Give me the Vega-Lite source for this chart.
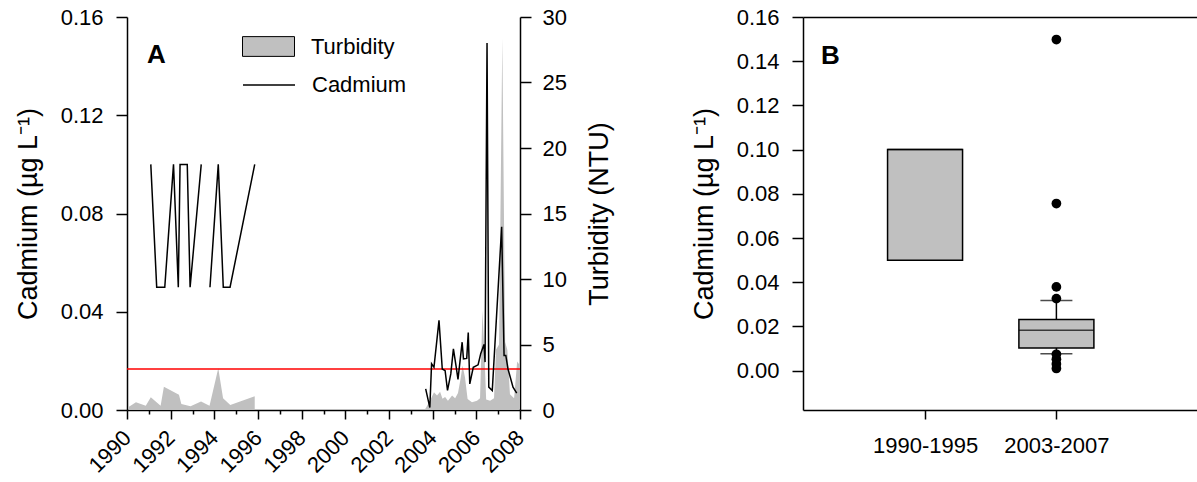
{
  "$schema": "https://vega.github.io/schema/vega-lite/v6.json",
  "padding": {"left": 14, "top": 6, "right": 0, "bottom": 0},
  "background": "white",
  "config": {
    "font": "Liberation Sans",
    "view": {"stroke": null},
    "axis": {
      "labelFont": "Liberation Sans", "titleFont": "Liberation Sans",
      "labelFontSize": 22, "titleFontSize": 27, "titleFontWeight": "normal",
      "labelColor": "black", "titleColor": "black",
      "domainColor": "black", "tickColor": "black",
      "domainWidth": 1.5, "tickWidth": 1.5, "grid": false
    },
    "legend": {"labelFont": "Liberation Sans", "labelFontSize": 22, "labelColor": "black", "padding": 0},
    "title": {"font": "Liberation Sans", "color": "black"}
  },
  "datasets": {
    "turb": [
      {"year": 1990.09, "turbidity": 0.25, "run": 1},
      {"year": 1990.41, "turbidity": 0.6, "run": 1},
      {"year": 1990.86, "turbidity": 0.33, "run": 1},
      {"year": 1991.09, "turbidity": 0.97, "run": 1},
      {"year": 1991.54, "turbidity": 0.33, "run": 1},
      {"year": 1991.69, "turbidity": 1.78, "run": 1},
      {"year": 1992.38, "turbidity": 1.17, "run": 1},
      {"year": 1992.49, "turbidity": 0.46, "run": 1},
      {"year": 1992.91, "turbidity": 0.28, "run": 1},
      {"year": 1993.39, "turbidity": 0.64, "run": 1},
      {"year": 1993.78, "turbidity": 0.33, "run": 1},
      {"year": 1994.18, "turbidity": 3.18, "run": 1},
      {"year": 1994.40, "turbidity": 0.9, "run": 1},
      {"year": 1994.73, "turbidity": 0.38, "run": 1},
      {"year": 1995.85, "turbidity": 1.05, "run": 1},
      {"year": 2003.63, "turbidity": 0.0, "run": 2},
      {"year": 2003.74, "turbidity": 0.3, "run": 2},
      {"year": 2003.93, "turbidity": 0.9, "run": 2},
      {"year": 2004.06, "turbidity": 1.35, "run": 2},
      {"year": 2004.20, "turbidity": 1.1, "run": 2},
      {"year": 2004.34, "turbidity": 1.4, "run": 2},
      {"year": 2004.45, "turbidity": 0.85, "run": 2},
      {"year": 2004.57, "turbidity": 1.0, "run": 2},
      {"year": 2004.70, "turbidity": 0.7, "run": 2},
      {"year": 2004.89, "turbidity": 1.1, "run": 2},
      {"year": 2005.03, "turbidity": 0.9, "run": 2},
      {"year": 2005.16, "turbidity": 1.3, "run": 2},
      {"year": 2005.28, "turbidity": 2.4, "run": 2},
      {"year": 2005.37, "turbidity": 3.4, "run": 2},
      {"year": 2005.48, "turbidity": 2.5, "run": 2},
      {"year": 2005.60, "turbidity": 0.84, "run": 2},
      {"year": 2005.80, "turbidity": 0.6, "run": 2},
      {"year": 2006.03, "turbidity": 0.7, "run": 2},
      {"year": 2006.17, "turbidity": 0.9, "run": 2},
      {"year": 2006.28, "turbidity": 7.6, "run": 2},
      {"year": 2006.38, "turbidity": 4.0, "run": 2},
      {"year": 2006.45, "turbidity": 0.8, "run": 2},
      {"year": 2006.63, "turbidity": 0.7, "run": 2},
      {"year": 2006.81, "turbidity": 0.9, "run": 2},
      {"year": 2006.90, "turbidity": 4.6, "run": 2},
      {"year": 2007.04, "turbidity": 5.0, "run": 2},
      {"year": 2007.19, "turbidity": 28.4, "run": 2},
      {"year": 2007.32, "turbidity": 5.2, "run": 2},
      {"year": 2007.42, "turbidity": 4.6, "run": 2},
      {"year": 2007.54, "turbidity": 1.2, "run": 2},
      {"year": 2007.73, "turbidity": 0.9, "run": 2},
      {"year": 2007.87, "turbidity": 3.7, "run": 2},
      {"year": 2007.96, "turbidity": 3.5, "run": 2}
    ],
    "cad": [
      {"year": 1991.09, "cadmium": 0.10, "run": 1},
      {"year": 1991.36, "cadmium": 0.05, "run": 1},
      {"year": 1991.73, "cadmium": 0.05, "run": 1},
      {"year": 1992.13, "cadmium": 0.10, "run": 1},
      {"year": 1992.35, "cadmium": 0.05, "run": 1},
      {"year": 1992.43, "cadmium": 0.10, "run": 1},
      {"year": 1992.76, "cadmium": 0.10, "run": 1},
      {"year": 1992.89, "cadmium": 0.05, "run": 1},
      {"year": 1993.40, "cadmium": 0.10, "run": 1},
      {"year": 1993.80, "cadmium": 0.05, "run": 2},
      {"year": 1994.18, "cadmium": 0.10, "run": 2},
      {"year": 1994.41, "cadmium": 0.05, "run": 2},
      {"year": 1994.72, "cadmium": 0.05, "run": 2},
      {"year": 1995.85, "cadmium": 0.10, "run": 2},
      {"year": 2003.68, "cadmium": 0.0086, "run": 3},
      {"year": 2003.87, "cadmium": 0.001, "run": 3},
      {"year": 2003.95, "cadmium": 0.0188, "run": 3},
      {"year": 2004.06, "cadmium": 0.0174, "run": 3},
      {"year": 2004.29, "cadmium": 0.0365, "run": 3},
      {"year": 2004.44, "cadmium": 0.0167, "run": 3},
      {"year": 2004.57, "cadmium": 0.0160, "run": 3},
      {"year": 2004.68, "cadmium": 0.0080, "run": 3},
      {"year": 2004.83, "cadmium": 0.0147, "run": 3},
      {"year": 2004.95, "cadmium": 0.0249, "run": 3},
      {"year": 2005.07, "cadmium": 0.0180, "run": 3},
      {"year": 2005.16, "cadmium": 0.0125, "run": 3},
      {"year": 2005.35, "cadmium": 0.0276, "run": 3},
      {"year": 2005.41, "cadmium": 0.0208, "run": 3},
      {"year": 2005.56, "cadmium": 0.0210, "run": 3},
      {"year": 2005.63, "cadmium": 0.0315, "run": 3},
      {"year": 2005.70, "cadmium": 0.0106, "run": 3},
      {"year": 2005.86, "cadmium": 0.0174, "run": 3},
      {"year": 2006.08, "cadmium": 0.0184, "run": 3},
      {"year": 2006.20, "cadmium": 0.0229, "run": 3},
      {"year": 2006.35, "cadmium": 0.0267, "run": 3},
      {"year": 2006.40, "cadmium": 0.0195, "run": 3},
      {"year": 2006.49, "cadmium": 0.1494, "run": 3},
      {"year": 2006.57, "cadmium": 0.0093, "run": 3},
      {"year": 2006.73, "cadmium": 0.0079, "run": 3},
      {"year": 2007.16, "cadmium": 0.0746, "run": 3},
      {"year": 2007.27, "cadmium": 0.0222, "run": 3},
      {"year": 2007.35, "cadmium": 0.0222, "run": 3},
      {"year": 2007.45, "cadmium": 0.0167, "run": 3},
      {"year": 2007.68, "cadmium": 0.0093, "run": 3},
      {"year": 2007.85, "cadmium": 0.0069, "run": 3}
    ],
    "guide": [{"cadmium": 0.0167}],
    "boxes": [
      {"period": "1990-1995", "lo": 0.05, "q1": 0.05, "median": 0.10, "q3": 0.10, "hi": 0.10},
      {"period": "2003-2007", "lo": 0.0076, "q1": 0.0103, "median": 0.0183, "q3": 0.0231, "hi": 0.0317}
    ],
    "outliers": [
      {"period": "2003-2007", "cadmium": 0.1498},
      {"period": "2003-2007", "cadmium": 0.0756},
      {"period": "2003-2007", "cadmium": 0.0379},
      {"period": "2003-2007", "cadmium": 0.0326},
      {"period": "2003-2007", "cadmium": 0.0074},
      {"period": "2003-2007", "cadmium": 0.0052},
      {"period": "2003-2007", "cadmium": 0.0030},
      {"period": "2003-2007", "cadmium": 0.0010}
    ]
  },
  "spacing": 77,
  "hconcat": [
    {
      "width": 393,
      "height": 393,
      "title": {"text": "A", "anchor": "start", "frame": "group", "fontSize": 26, "fontWeight": "bold", "dx": 20, "dy": 62, "offset": 0},
      "resolve": {"scale": {"y": "independent"}, "axis": {"x": "independent"}},
      "layer": [
        {
          "data": {"name": "turb"},
          "mark": {"type": "area", "strokeWidth": 0},
          "encoding": {
            "x": {"field": "year", "type": "quantitative",
                  "scale": {"domain": [1990, 2008], "nice": false, "zero": false},
                  "axis": {"orient": "bottom", "title": null, "values": [1990, 1992, 1994, 1996, 1998, 2000, 2002, 2004, 2006, 2008],
                           "format": "d", "labelAngle": -45, "labelAlign": "right", "labelBaseline": "middle",
                           "tickSize": 9, "labelPadding": 15, "labelFlush": false, "labelOverlap": false}},
            "y": {"field": "turbidity", "type": "quantitative", "stack": null,
                  "scale": {"domain": [0, 30], "nice": false},
                  "axis": {"orient": "right", "title": "Turbidity (NTU)", "values": [0, 5, 10, 15, 20, 25, 30],
                           "tickSize": 11, "labelPadding": 11, "titlePadding": 20, "titleAngle": 270, "titleBaseline": "top"}},
            "detail": {"field": "run", "type": "nominal"},
            "fill": {"datum": "Turbidity", "type": "nominal",
                     "scale": {"domain": ["Turbidity"], "range": ["#c0c0c0"]},
                     "legend": {"orient": "none", "legendX": 115, "legendY": 3, "title": null,
                                "symbolType": "M-1,-0.38H1V0.38H-1Z", "symbolSize": 2704,
                                "symbolStrokeColor": "black", "symbolStrokeWidth": 1, "labelOffset": 16}}
          }
        },
        {
          "layer": [
            {
              "data": {"name": "guide"},
              "mark": {"type": "rule", "color": "#ff0000", "strokeWidth": 1.3},
              "encoding": {
                "y": {"field": "cadmium", "type": "quantitative"}
              }
            },
            {
              "data": {"name": "cad"},
              "mark": {"type": "line", "strokeWidth": 1.5},
              "encoding": {
                "x": {"field": "year", "type": "quantitative",
                      "scale": {"domain": [1990, 2008], "nice": false, "zero": false},
                      "axis": {"orient": "bottom", "title": null, "values": [1991, 1993, 1995, 1997, 1999, 2001, 2003, 2005, 2007],
                               "tickSize": 4, "labels": false, "domain": false}},
                "y": {"field": "cadmium", "type": "quantitative",
                      "scale": {"domain": [0, 0.16], "nice": false},
                      "axis": {"orient": "left", "title": "Cadmium (µg L⁻¹)", "values": [0, 0.04, 0.08, 0.12, 0.16], "format": ".2f",
                               "tickSize": 11, "labelPadding": 13, "titlePadding": 18}},
                "detail": {"field": "run", "type": "nominal"},
                "stroke": {"datum": "Cadmium", "type": "nominal",
                           "scale": {"domain": ["Cadmium"], "range": ["black"]},
                           "legend": {"orient": "none", "legendX": 115, "legendY": 41, "title": null,
                                      "symbolType": "stroke", "symbolSize": 2704,
                                      "symbolStrokeWidth": 1.5, "labelOffset": 16}}
              }
            }
          ]
        }
      ]
    },
    {
      "width": 394,
      "height": 393,
      "title": {"text": "B", "anchor": "start", "frame": "group", "fontSize": 26, "fontWeight": "bold", "dx": 18, "dy": 63, "offset": 0},
      "resolve": {"axis": {"x": "independent"}},
      "layer": [
        {
          "data": {"name": "boxes"},
          "mark": {"type": "rule", "color": "black", "strokeWidth": 1.5},
          "encoding": {
            "x": {"field": "period", "type": "nominal",
                  "scale": {"type": "point", "domain": ["1990-1995", "2003-2007"], "padding": 1.076, "align": 0.4647},
                  "axis": {"orient": "bottom", "title": null, "labelAngle": 0, "tickSize": 9, "labelPadding": 16, "domain": true}},
            "y": {"field": "q3", "type": "quantitative",
                  "scale": {"domain": [-0.0178, 0.16], "nice": false, "zero": false},
                  "axis": {"title": "Cadmium (µg L⁻¹)", "values": [0, 0.02, 0.04, 0.06, 0.08, 0.1, 0.12, 0.14, 0.16], "format": ".2f",
                           "tickSize": 11, "labelPadding": 13, "titlePadding": 18, "domain": true}},
            "y2": {"field": "hi"}
          }
        },
        {
          "data": {"name": "boxes"},
          "mark": {"type": "rule", "color": "black", "strokeWidth": 1.5},
          "encoding": {
            "x": {"field": "period", "type": "nominal",
                  "axis": {"orient": "top", "title": null, "ticks": false, "labels": false, "domain": true}},
            "y": {"field": "lo", "type": "quantitative"},
            "y2": {"field": "q1"}
          }
        },
        {
          "data": {"name": "boxes"},
          "transform": [{"filter": "datum.hi > datum.q3"}],
          "mark": {"type": "tick", "orient": "horizontal", "size": 32, "thickness": 1.5, "color": "black"},
          "encoding": {
            "x": {"field": "period", "type": "nominal", "axis": null},
            "y": {"field": "hi", "type": "quantitative"}
          }
        },
        {
          "data": {"name": "boxes"},
          "transform": [{"filter": "datum.hi > datum.q3"}],
          "mark": {"type": "tick", "orient": "horizontal", "size": 32, "thickness": 1.5, "color": "black"},
          "encoding": {
            "x": {"field": "period", "type": "nominal", "axis": null},
            "y": {"field": "lo", "type": "quantitative"}
          }
        },
        {
          "data": {"name": "boxes"},
          "mark": {"type": "bar", "size": 75, "fill": "#c0c0c0", "stroke": "black", "strokeWidth": 1.5},
          "encoding": {
            "x": {"field": "period", "type": "nominal", "axis": null},
            "y": {"field": "q1", "type": "quantitative"},
            "y2": {"field": "q3"}
          }
        },
        {
          "data": {"name": "boxes"},
          "mark": {"type": "tick", "orient": "horizontal", "size": 75, "thickness": 1.5, "color": "black"},
          "encoding": {
            "x": {"field": "period", "type": "nominal", "axis": null},
            "y": {"field": "median", "type": "quantitative"}
          }
        },
        {
          "data": {"name": "outliers"},
          "mark": {"type": "point", "filled": true, "color": "black", "size": 95, "opacity": 1},
          "encoding": {
            "x": {"field": "period", "type": "nominal", "axis": null},
            "y": {"field": "cadmium", "type": "quantitative"}
          }
        }
      ]
    }
  ]
}
